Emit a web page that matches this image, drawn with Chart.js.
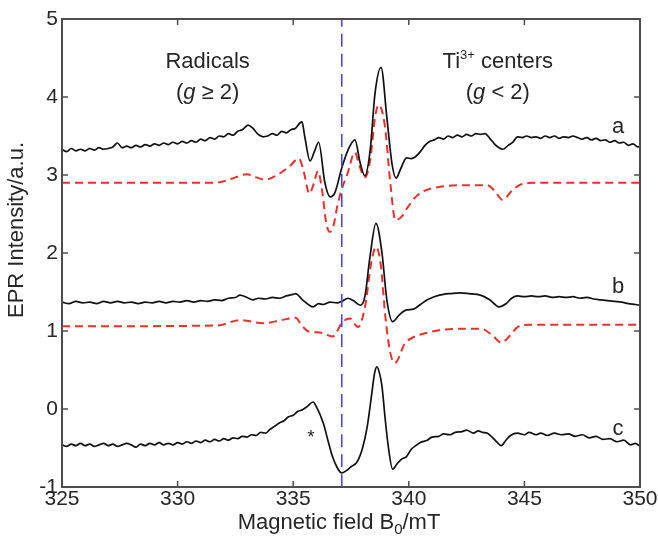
<!DOCTYPE html>
<html>
<head>
<meta charset="utf-8">
<title>EPR spectra</title>
<script src="https://cdn.jsdelivr.net/npm/chart.js@4.4.0/dist/chart.umd.min.js"></script>
<style>
  html, body { margin: 0; padding: 0; background: #fff; }
</style>
</head>
<body>
<canvas id="eprChart" width="658" height="542"></canvas>
<script>
'use strict';

// Data (magnetic field in mT, intensity in a.u.)
const fieldA = [325.0, 325.2, 325.4, 325.6, 325.8, 326.0, 326.2, 326.4, 326.6, 326.8, 327.0, 327.2, 327.4, 327.6, 327.8, 328.0, 328.2, 328.4, 328.6, 328.8, 329.0, 329.2, 329.4, 329.6, 329.8, 330.0, 330.2, 330.4, 330.6, 330.8, 331.0, 331.2, 331.4, 331.6, 331.8, 332.0, 332.2, 332.4, 332.6, 332.8, 333.05, 333.25, 333.45, 333.7, 333.9, 334.1, 334.3, 334.5, 334.7, 334.9, 335.1, 335.3, 335.38, 335.5, 335.73, 335.94, 336.1, 336.37, 336.6, 336.8, 337.1, 337.37, 337.67, 337.9, 338.1, 338.33, 338.54, 338.8, 339.05, 339.27, 339.45, 339.65, 339.9, 340.1, 340.27, 340.5, 340.7, 340.9, 341.1, 341.3, 341.5, 341.7, 341.9, 342.1, 342.3, 342.5, 342.7, 342.9, 343.1, 343.3, 343.5, 343.7, 343.9, 344.07, 344.3, 344.5, 344.7, 344.9, 345.1, 345.3, 345.5, 345.7, 345.9, 346.1, 346.3, 346.5, 346.7, 346.9, 347.1, 347.3, 347.5, 347.7, 347.9, 348.1, 348.3, 348.5, 348.7, 348.9, 349.1, 349.3, 349.5, 349.7, 349.9, 350.0];
const intensityA = [3.33, 3.30, 3.34, 3.31, 3.33, 3.31, 3.34, 3.32, 3.35, 3.33, 3.34, 3.36, 3.41, 3.35, 3.37, 3.35, 3.38, 3.36, 3.39, 3.37, 3.40, 3.38, 3.41, 3.39, 3.42, 3.40, 3.43, 3.41, 3.44, 3.42, 3.46, 3.44, 3.48, 3.46, 3.50, 3.49, 3.53, 3.51, 3.56, 3.58, 3.64, 3.60, 3.53, 3.49, 3.50, 3.53, 3.51, 3.56, 3.54, 3.58, 3.60, 3.67, 3.68, 3.49, 3.18, 3.32, 3.42, 2.90, 2.72, 2.77, 3.09, 3.32, 3.45, 3.15, 2.99, 3.32, 4.05, 4.38, 3.74, 3.15, 2.96, 3.08, 3.22, 3.21, 3.23, 3.30, 3.38, 3.43, 3.45, 3.48, 3.46, 3.50, 3.48, 3.51, 3.49, 3.52, 3.50, 3.53, 3.52, 3.53, 3.47, 3.40, 3.35, 3.33, 3.38, 3.42, 3.49, 3.48, 3.50, 3.48, 3.49, 3.47, 3.50, 3.48, 3.50, 3.47, 3.49, 3.48, 3.50, 3.48, 3.46, 3.48, 3.45, 3.47, 3.44, 3.45, 3.42, 3.44, 3.41, 3.42, 3.38, 3.40, 3.36, 3.37];

const fieldSimA = [325.0, 331.5, 332.0, 332.5, 333.0, 333.4, 333.8, 334.3, 334.8, 335.25, 335.45, 335.7, 335.88, 336.07, 336.25, 336.42, 336.58, 336.75, 336.9, 337.1, 337.33, 337.67, 337.85, 338.1, 338.33, 338.54, 338.7, 338.97, 339.2, 339.42, 339.7, 339.96, 340.3, 340.7, 341.2, 341.6, 342.5, 343.4, 343.7, 344.07, 344.4, 344.85, 345.5, 350.0];
const intensitySimA = [2.90, 2.90, 2.92, 2.97, 3.01, 2.97, 2.94, 3.00, 3.10, 3.21, 3.05, 2.76, 2.88, 3.05, 2.80, 2.40, 2.27, 2.36, 2.59, 2.82, 3.00, 3.29, 3.13, 2.97, 3.19, 3.74, 3.90, 3.62, 2.90, 2.42, 2.47, 2.59, 2.72, 2.80, 2.84, 2.86, 2.87, 2.87, 2.80, 2.68, 2.78, 2.88, 2.90, 2.90];

const fieldB = [325.0, 325.3, 325.6, 325.9, 326.2, 326.5, 326.8, 327.1, 327.4, 327.7, 328.0, 328.3, 328.6, 328.9, 329.2, 329.5, 329.8, 330.1, 330.4, 330.7, 331.0, 331.3, 331.6, 331.9, 332.2, 332.5, 332.7, 333.0, 333.26, 333.5, 333.8, 334.1, 334.4, 334.7, 335.0, 335.1, 335.4, 335.7, 335.86, 336.1, 336.3, 336.6, 336.9, 337.1, 337.37, 337.6, 337.9, 338.1, 338.32, 338.58, 338.84, 339.05, 339.3, 339.6, 339.9, 340.2, 340.5, 340.8, 341.1, 341.5, 341.8, 342.2, 342.6, 343.1, 343.5, 343.9, 344.2, 344.45, 344.7, 345.0, 345.3, 345.6, 345.9, 346.2, 346.5, 346.8, 347.1, 347.4, 347.7, 348.0, 348.3, 348.6, 348.9, 349.2, 349.5, 349.8, 350.0];
const intensityB = [1.37, 1.35, 1.38, 1.36, 1.37, 1.35, 1.38, 1.36, 1.38, 1.36, 1.37, 1.35, 1.37, 1.36, 1.38, 1.36, 1.38, 1.37, 1.39, 1.37, 1.39, 1.38, 1.40, 1.39, 1.42, 1.43, 1.46, 1.43, 1.40, 1.42, 1.41, 1.43, 1.42, 1.45, 1.47, 1.48, 1.40, 1.33, 1.31, 1.35, 1.34, 1.37, 1.36, 1.38, 1.42, 1.39, 1.33, 1.44, 1.95, 2.38, 2.00, 1.40, 1.12, 1.21, 1.27, 1.28, 1.34, 1.40, 1.44, 1.47, 1.48, 1.49, 1.48, 1.46, 1.40, 1.31, 1.35, 1.42, 1.45, 1.44, 1.45, 1.44, 1.45, 1.43, 1.44, 1.43, 1.44, 1.42, 1.43, 1.41, 1.40, 1.39, 1.38, 1.37, 1.35, 1.34, 1.33];

const fieldSimB = [325.0, 331.7, 332.7, 333.7, 334.5, 335.1, 335.4, 335.7, 336.16, 336.7, 337.15, 337.46, 337.8, 338.1, 338.38, 338.58, 338.8, 338.98, 339.2, 339.4, 339.83, 340.2, 340.7, 341.56, 343.1, 343.6, 344.0, 344.4, 344.7, 345.2, 350.0];
const intensitySimB = [1.06, 1.07, 1.14, 1.10, 1.14, 1.17, 1.06, 0.99, 0.98, 0.93, 1.12, 1.16, 1.05, 1.30, 1.88, 2.08, 1.82, 1.20, 0.72, 0.59, 0.84, 0.92, 0.97, 1.02, 1.03, 0.95, 0.85, 0.95, 1.05, 1.08, 1.08];

const fieldC = [325.0, 325.2, 325.4, 325.6, 325.8, 326.0, 326.2, 326.4, 326.6, 326.8, 327.0, 327.2, 327.4, 327.6, 327.8, 328.0, 328.2, 328.4, 328.6, 328.8, 329.0, 329.2, 329.4, 329.6, 329.8, 330.0, 330.2, 330.4, 330.6, 330.8, 331.0, 331.2, 331.4, 331.6, 331.8, 332.0, 332.2, 332.4, 332.6, 332.8, 333.0, 333.2, 333.4, 333.6, 333.8, 334.0, 334.2, 334.4, 334.6, 334.8, 335.0, 335.2, 335.4, 335.6, 335.86, 336.0, 336.3, 336.5, 336.7, 336.9, 337.1, 337.3, 337.5, 337.76, 338.0, 338.2, 338.4, 338.52, 338.62, 338.74, 338.84, 338.97, 339.1, 339.3, 339.5, 339.7, 339.9, 340.1, 340.3, 340.5, 340.8, 341.0, 341.3, 341.5, 341.8, 342.0, 342.3, 342.5, 342.8, 343.0, 343.2, 343.4, 343.6, 343.8, 344.0, 344.2, 344.4, 344.7, 345.0, 345.2, 345.5, 345.7, 346.0, 346.3, 346.6, 346.9, 347.2, 347.5, 347.8, 348.1, 348.4, 348.7, 349.0, 349.3, 349.6, 349.8, 350.0];
const intensityC = [-0.46, -0.48, -0.45, -0.47, -0.44, -0.47, -0.45, -0.48, -0.46, -0.44, -0.47, -0.45, -0.48, -0.46, -0.44, -0.46, -0.49, -0.45, -0.47, -0.44, -0.46, -0.43, -0.46, -0.44, -0.46, -0.43, -0.45, -0.42, -0.44, -0.41, -0.43, -0.40, -0.42, -0.39, -0.41, -0.38, -0.40, -0.37, -0.38, -0.35, -0.36, -0.33, -0.34, -0.30, -0.31, -0.26, -0.22, -0.18, -0.15, -0.10, -0.08, -0.03, -0.01, 0.03, 0.09, 0.03, -0.18, -0.40, -0.61, -0.75, -0.82, -0.79, -0.74, -0.68, -0.50, -0.23, 0.20, 0.46, 0.54, 0.45, 0.29, -0.10, -0.45, -0.77, -0.70, -0.64, -0.61, -0.52, -0.47, -0.43, -0.40, -0.36, -0.35, -0.32, -0.33, -0.30, -0.29, -0.27, -0.31, -0.28, -0.30, -0.31, -0.36, -0.42, -0.47, -0.40, -0.34, -0.31, -0.33, -0.30, -0.33, -0.31, -0.34, -0.31, -0.33, -0.32, -0.35, -0.33, -0.37, -0.35, -0.39, -0.38, -0.42, -0.40, -0.46, -0.44, -0.48];

// g = 2 marker position and axis ticks
const gMarkerField = 337.1;
const xTicks = [325, 330, 335, 340, 345, 350];
const yTicks = [-1, 0, 1, 2, 3, 4, 5];

// Style constants
const FONT = '"Liberation Sans", Arial, sans-serif';
const TEXT_COLOR = '#262626';
const FRAME_COLOR = '#4d4d4d';

function toPoints(xs, ys) {
  return xs.map(function(x, i) {
    return { x: x, y: ys[i] };
  });
}

// Draws a row of text pieces with different fonts, centred on cx
function drawRuns(ctx, runs, cx, cy) {
  let total = 0;
  for (let run of runs) {
    ctx.font = run.font;
    total += ctx.measureText(run.text).width;
  }
  let x = cx - total / 2;
  for (let run of runs) {
    ctx.font = run.font;
    ctx.fillText(run.text, x, cy + (run.dy || 0));
    x += ctx.measureText(run.text).width;
  }
}

// Frame, inward ticks, labels and axis titles
const decorPlugin = {
  id: 'eprDecor',
  afterDraw(chart) {
    const ctx = chart.ctx;
    const area = chart.chartArea;
    const xs = chart.scales.x;
    const ys = chart.scales.y;
    ctx.save();

    ctx.strokeStyle = FRAME_COLOR;
    ctx.lineWidth = 1.5;
    ctx.beginPath();
    for (let v of xTicks) {
      const px = xs.getPixelForValue(v);
      ctx.moveTo(px, area.bottom);
      ctx.lineTo(px, area.bottom - 6);
      ctx.moveTo(px, area.top);
      ctx.lineTo(px, area.top + 6);
    }
    for (let v of yTicks) {
      const py = ys.getPixelForValue(v);
      ctx.moveTo(area.left, py);
      ctx.lineTo(area.left + 6, py);
      ctx.moveTo(area.right, py);
      ctx.lineTo(area.right - 6, py);
    }
    ctx.stroke();
    ctx.lineWidth = 2;
    ctx.strokeRect(area.left, area.top, area.right - area.left, area.bottom - area.top);

    ctx.fillStyle = TEXT_COLOR;
    ctx.textBaseline = 'middle';
    ctx.textAlign = 'left';
    const big = '22px ' + FONT;
    const ital = 'italic 22px ' + FONT;
    const sup = '13px ' + FONT;

    drawRuns(ctx, [{ text: 'Radicals', font: big }], xs.getPixelForValue(331.3), ys.getPixelForValue(4.45));
    drawRuns(ctx, [
      { text: '(', font: big },
      { text: 'g', font: ital },
      { text: ' \u2265 2)', font: big }
    ], xs.getPixelForValue(331.3), ys.getPixelForValue(4.05));
    drawRuns(ctx, [
      { text: 'Ti', font: big },
      { text: '3+', font: sup, dy: -6 },
      { text: ' centers', font: big }
    ], xs.getPixelForValue(343.85), ys.getPixelForValue(4.45));
    drawRuns(ctx, [
      { text: '(', font: big },
      { text: 'g', font: ital },
      { text: ' < 2)', font: big }
    ], xs.getPixelForValue(343.85), ys.getPixelForValue(4.05));

    const letter = '22px ' + FONT;
    drawRuns(ctx, [{ text: 'a', font: letter }], xs.getPixelForValue(349.05), ys.getPixelForValue(3.62));
    drawRuns(ctx, [{ text: 'b', font: letter }], xs.getPixelForValue(349.05), ys.getPixelForValue(1.56));
    drawRuns(ctx, [{ text: 'c', font: letter }], xs.getPixelForValue(349.05), ys.getPixelForValue(-0.26));
    drawRuns(ctx, [{ text: '*', font: '19px ' + FONT }], xs.getPixelForValue(335.77), ys.getPixelForValue(-0.37));

    // axis titles
    const title = '22px ' + FONT;
    drawRuns(ctx, [
      { text: 'Magnetic field B', font: title },
      { text: '0', font: '15px ' + FONT, dy: 7 },
      { text: '/mT', font: title }
    ], 339, 523);

    ctx.translate(17, 230);
    ctx.rotate(-Math.PI / 2);
    drawRuns(ctx, [{ text: 'EPR Intensity/a.u.', font: title }], 0, 0);
    ctx.restore();
  }
};

// Chart
const ctx = document.getElementById('eprChart').getContext('2d');

const eprChart = new Chart(ctx, {
  type: 'scatter',
  data: {
    datasets: [
      {
        label: 'g = 2',
        data: [{ x: gMarkerField, y: -1 }, { x: gMarkerField, y: 5 }],
        borderColor: '#4b47e0',
        borderWidth: 1.6,
        borderDash: [13, 7]
      },
      {
        label: 'a',
        data: toPoints(fieldA, intensityA),
        borderColor: '#111111',
        borderWidth: 1.7
      },
      {
        label: 'b',
        data: toPoints(fieldB, intensityB),
        borderColor: '#111111',
        borderWidth: 1.7
      },
      {
        label: 'c',
        data: toPoints(fieldC, intensityC),
        borderColor: '#111111',
        borderWidth: 1.7
      },
      {
        label: 'a (sim)',
        data: toPoints(fieldSimA, intensitySimA),
        borderColor: '#e8302c',
        borderWidth: 2,
        borderDash: [8, 5]
      },
      {
        label: 'b (sim)',
        data: toPoints(fieldSimB, intensitySimB),
        borderColor: '#e8302c',
        borderWidth: 2,
        borderDash: [8, 5]
      }
    ]
  },
  options: {
    responsive: false,
    animation: false,
    showLine: true,
    layout: {
      padding: { top: 19, right: 18, left: 0, bottom: 0 }
    },
    elements: {
      point: { radius: 0, hoverRadius: 0 },
      line: { cubicInterpolationMode: 'monotone', fill: false }
    },
    plugins: {
      legend: { display: false },
      tooltip: { enabled: false }
    },
    scales: {
      x: {
        type: 'linear',
        min: 325,
        max: 350,
        afterFit(scale) { scale.height = 55; },
        afterBuildTicks(scale) { scale.ticks = xTicks.map(v => ({ value: v })); },
        grid: { display: false, drawTicks: false },
        border: { display: false },
        ticks: {
          padding: 0,
          color: TEXT_COLOR,
          font: { family: FONT, size: 21 },
          maxRotation: 0
        }
      },
      y: {
        type: 'linear',
        min: -1,
        max: 5,
        afterFit(scale) { scale.width = 62; },
        afterBuildTicks(scale) { scale.ticks = yTicks.map(v => ({ value: v })); },
        grid: { display: false, drawTicks: false },
        border: { display: false },
        ticks: {
          padding: 4,
          color: TEXT_COLOR,
          font: { family: FONT, size: 21 }
        }
      }
    }
  },
  plugins: [decorPlugin]
});
</script>
</body>
</html>
